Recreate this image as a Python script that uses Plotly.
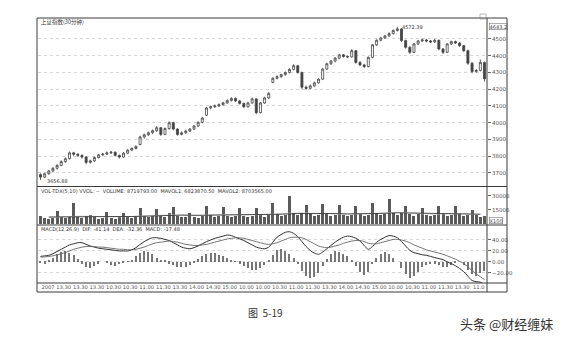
import plotly.graph_objects as go

# ---------------- data ----------------
opens = [3690,3675,3695,3712,3728,3745,3768,3785,3820,3812,3805,3795,3763,3772,3792,3808,3812,3820,3824,3805,
         3795,3818,3836,3846,3870,3915,3928,3940,3952,3970,3930,3965,4000,3962,3930,3940,3950,3962,3980,4002,
         4045,4088,4095,4100,4108,4118,4132,4145,4130,4115,4095,4118,4142,4060,4118,4148,4240,4265,4275,4287,
         4300,4318,4340,4300,4212,4205,4220,4238,4260,4320,4352,4368,4385,4405,4395,4393,4430,4360,4345,4335,
         4390,4465,4492,4506,4518,4532,4550,4560,4490,4450,4420,4470,4488,4494,4488,4482,4492,4440,4420,4470,
         4484,4476,4460,4430,4355,4305,4312,4360]
highs = [3698,3700,3718,3735,3752,3775,3792,3828,3826,3818,3810,3800,3780,3798,3815,3820,3828,3832,3828,3810,
         3825,3842,3852,3865,3922,3935,3948,3960,3980,3975,3972,4008,4005,3968,3948,3958,3968,3986,4008,4035,
         4095,4102,4108,4115,4125,4140,4152,4150,4136,4120,4125,4150,4146,4124,4155,4182,4272,4282,4292,4306,
         4325,4350,4345,4305,4222,4228,4245,4266,4326,4358,4375,4392,4412,4410,4402,4440,4435,4368,4352,4396,
         4470,4498,4512,4524,4540,4558,4572.39,4565,4496,4456,4476,4494,4502,4500,4494,4500,4496,4446,4476,4490,
         4490,4482,4465,4436,4362,4320,4378,4365]
lows = [3657,3668,3688,3705,3720,3740,3760,3780,3800,3796,3785,3752,3755,3766,3786,3800,3806,3812,3798,3786,
        3790,3812,3830,3840,3865,3906,3920,3932,3945,3920,3925,3958,3955,3922,3924,3934,3944,3956,3974,3996,
        4040,4080,4088,4094,4100,4112,4126,4124,4108,4088,4090,4112,4050,4055,4112,4140,4235,4258,4268,4280,
        4294,4312,4292,4200,4196,4200,4214,4232,4255,4314,4345,4360,4378,4388,4385,4388,4352,4338,4326,4330,
        4385,4458,4486,4500,4512,4526,4544,4482,4442,4410,4415,4464,4482,4480,4475,4476,4432,4410,4415,4464,
        4470,4452,4422,4345,4295,4298,4306,4245]
closes = [3675,3695,3712,3728,3745,3768,3785,3820,3812,3805,3795,3763,3772,3792,3808,3812,3820,3824,3805,3795,
          3818,3836,3846,3858,3915,3928,3940,3952,3970,3930,3965,4000,3962,3930,3940,3950,3962,3980,4002,4028,
          4088,4095,4100,4108,4118,4132,4145,4130,4115,4095,4118,4142,4060,4118,4148,4175,4265,4275,4287,4300,
          4318,4340,4300,4212,4205,4220,4238,4260,4320,4352,4368,4385,4405,4395,4393,4430,4360,4345,4335,4390,
          4465,4492,4506,4518,4532,4550,4560,4490,4450,4420,4470,4488,4494,4488,4482,4492,4440,4420,4470,4484,
          4476,4460,4430,4355,4305,4312,4360,4262]

volume = [9000,6000,5000,6500, 13800,7000,6000,7500, 22000,8000,6500,8500, 10000,7000,5500,6500,
          12700,6500,5000,7000, 11500,7500,6000,8000, 17300,9000,7000,8500, 16000,8500,7500,12000,
          18500,9000,7000,8000, 11500,7500,6500,8500, 19600,9500,8000,9000, 18500,9000,7500,8500,
          17300,8500,7000,9000, 17300,10000,8000,9500, 22000,11000,9000,10000, 30000,12000,9500,11500,
          20800,11000,9000,10000, 21500,10500,8500,10000, 20800,10000,8500,9500, 19600,10500,9000,10000,
          23000,11500,9500,11000, 26500,12000,10000,11500, 19600,11000,9000,10500, 17300,10000,8500,9500,
          19600,10500,9000,10000, 19600,10500,9000,10000, 15000,9500,8000,8700]
mavol1 = [7000,7500,8500,8000,7500,8000,9000,9500,9500,9000,10000,10000,9500,10000,11000,12000,11500,11000,
          10500,11000,12000,12500,11500,10500,11000,11000,10000]
mavol2 = [7500,7800,8200,8300,8000,8000,8500,9200,9500,9300,9500,9800,9800,9800,10500,11200,11500,11200,
          10800,10800,11300,12000,11800,11200,10800,10900,10500]

dif = [10,11,12,15,19,23,27,31,33,35,35,32,29,27,25,24,23,22,21,20,20,20,22,26,32,37,41,44,44,43,
       41,39,35,31,27,25,24,26,29,33,37,40,43,45,47,49,48,45,42,39,35,31,27,25,24,27,36,45,50,54,
       55,52,46,37,28,21,16,14,18,24,30,36,41,45,47,46,43,38,30,23,28,36,41,45,48,47,44,37,29,21,
       17,15,13,12,10,8,6,4,0,-3,-7,-12,-18,-26,-34,-36,-37,-41.14]
dea = [9,9,10,11,13,15,17,20,23,25,27,28,28,28,27,27,26,25,24,23,23,22,22,23,25,27,30,33,35,36,
       37,38,37,36,34,32,31,30,30,31,32,34,36,38,40,42,43,44,44,43,41,39,37,35,33,32,33,35,38,41,
       44,45,45,44,41,37,33,29,27,26,27,29,31,34,36,38,39,39,37,34,33,33,35,37,39,41,41,40,38,35,
       31,28,25,22,20,18,16,14,11,8,5,1,-3,-9,-16,-22,-27,-32.36]
macd = [-2,-3,2,8,14,18,19,17,12,5,-3,-9,-11,-8,-3,0,-2,-6,-8,-4,-1,1,4,10,16,19,18,14,8,4,
        2,-3,-6,-9,-10,-9,-6,-2,5,10,15,17,16,13,10,7,4,1,-3,-8,-12,-14,-15,-12,-6,2,12,21,23,20,
        15,8,-4,-16,-26,-29,-27,-20,-8,6,15,19,18,15,10,3,-8,-18,-24,-18,-4,8,15,18,15,8,0,-12,-22,-29,
        -26,-18,-10,-5,-4,-3,-6,-10,-9,-5,-2,0,-6,-14,-22,-25,-20,-17.48]

tick_labels = ["2007 13.30", "13.30", "13.30", "10.30", "10.30", "11.00", "11.30", "13.30", "14.00",
               "14.30", "15.00", "10.00", "10.00", "10.30", "11.00", "11.30", "13.30", "14.00", "14.30",
               "15.00", "10.00", "10.30", "11.00", "11.30", "13.30", "11.0"]
price_ticks = [3700, 3800, 3900, 4000, 4100, 4200, 4300, 4400, 4500]
vol_ticks = [15000, 30000]
vol_tick_text = ["15000", "30000"]
macd_ticks = [-20, 0, 20, 40]

title_price = "上证指数(30分钟)"
title_vol = "VOL-TDX(5,10) VVOL: --  VOLUME: 8719793.00  MAVOL1: 6823870.50  MAVOL2: 8703565.00"
title_macd = "MACD(12,26,9)  DIF: -41.14  DEA: -32.36  MACD: -17.48"

# ---------------- layout geometry ----------------
W, H = 566, 340
def px(x):
    return x / W
def py(y):
    return 1 - y / H

idx = list(range(len(closes)))
n = len(idx)
day_idx = [4 * k + 2 for k in range(len(mavol1))]
tick_pos = [3.8] + [4 * k + 1.6 for k in range(2, 2 + len(tick_labels) - 1)]

X0, X1 = 38, 487
dom_x = [px(X0), px(X1)]
dom_price = [py(186), py(18)]
dom_vol = [py(224), py(187)]
dom_macd = [py(283), py(226)]

ink = "#3a3a3a"
grid = "#d6d6d6"
FONT = "DejaVu Sans, Noto Sans CJK SC"

fig = go.Figure()

fig.add_trace(go.Candlestick(
    x=idx, open=opens, high=highs, low=lows, close=closes,
    increasing=dict(line=dict(color="#444", width=0.8), fillcolor="#ffffff"),
    decreasing=dict(line=dict(color="#444", width=0.8), fillcolor="#444"),
    whiskerwidth=0, xaxis="x", yaxis="y", showlegend=False, hoverinfo="skip"))

fig.add_trace(go.Bar(x=idx, y=volume, marker=dict(color="#5a5a5a", line=dict(width=0)),
                     width=0.72, xaxis="x2", yaxis="y2", showlegend=False))
fig.add_trace(go.Scatter(x=day_idx, y=mavol1, mode="lines", line=dict(color="#d0d0d0", width=0.9),
                         xaxis="x2", yaxis="y2", showlegend=False))
fig.add_trace(go.Scatter(x=day_idx, y=mavol2, mode="lines", line=dict(color="#222", width=0.8),
                         xaxis="x2", yaxis="y2", showlegend=False))

fig.add_trace(go.Bar(x=idx, y=macd, marker=dict(color="#777", line=dict(width=0)),
                     width=0.3, xaxis="x3", yaxis="y3", showlegend=False))
fig.add_trace(go.Scatter(x=idx, y=dif, mode="lines", line=dict(color="#333", width=1.0, shape="spline"),
                         xaxis="x3", yaxis="y3", showlegend=False))
fig.add_trace(go.Scatter(x=idx, y=dea, mode="lines", line=dict(color="#666", width=0.9, shape="spline"),
                         xaxis="x3", yaxis="y3", showlegend=False))

xr = [-0.6, n - 0.4]
common_x = dict(domain=dom_x, range=xr, showgrid=False, zeroline=False, showline=False, fixedrange=True)
tickfont = dict(size=5.5, color="#555", family=FONT)

fig.update_layout(
    width=W, height=H, margin=dict(l=0, r=0, t=0, b=0),
    paper_bgcolor="white", plot_bgcolor="white", bargap=0,
    font=dict(family=FONT, size=6, color="#444"),
    xaxis=dict(anchor="y", showticklabels=False, rangeslider=dict(visible=False), **common_x),
    xaxis2=dict(anchor="y2", showticklabels=False, matches="x", **common_x),
    xaxis3=dict(anchor="y3", matches="x", tickmode="array", tickvals=tick_pos, ticktext=tick_labels,
                ticks="", tickangle=0, tickfont=dict(size=5.2, color="#555", family=FONT), **common_x),
    yaxis=dict(domain=dom_price, range=[3622, 4625], side="right", tickvals=price_ticks,
               showgrid=True, gridcolor=grid, griddash="dot", gridwidth=0.8, zeroline=False,
               ticks="outside", ticklen=3, tickcolor="#666", tickfont=tickfont, fixedrange=True),
    yaxis2=dict(domain=dom_vol, range=[0, 39600], side="right", tickmode="array", tickvals=vol_ticks,
                ticktext=vol_tick_text, showgrid=False, zeroline=False, ticks="outside", ticklen=3,
                tickcolor="#666", tickfont=tickfont, fixedrange=True),
    yaxis3=dict(domain=dom_macd, range=[-38.5, 65.5], side="right", tickvals=macd_ticks, tickformat=".2f",
                showgrid=True, gridcolor=grid, griddash="dot", gridwidth=0.8, zeroline=False,
                ticks="outside", ticklen=3, tickcolor="#666", tickfont=tickfont, fixedrange=True),
)

# frame
shapes = [
    dict(type="rect", xref="paper", yref="paper", x0=px(37), x1=px(507), y0=py(292), y1=py(18),
         line=dict(color=ink, width=1)),
    dict(type="line", xref="paper", yref="paper", x0=px(37), x1=px(507), y0=py(186.5), y1=py(186.5),
         line=dict(color=ink, width=1)),
    dict(type="line", xref="paper", yref="paper", x0=px(37), x1=px(507), y0=py(225), y1=py(225),
         line=dict(color=ink, width=1)),
    dict(type="line", xref="paper", yref="paper", x0=px(37), x1=px(507), y0=py(283), y1=py(283),
         line=dict(color=ink, width=1)),
    dict(type="line", xref="paper", yref="paper", x0=px(487), x1=px(487), y0=py(292), y1=py(18),
         line=dict(color=ink, width=1)),
    dict(type="rect", xref="paper", yref="paper", x0=px(480), x1=px(486), y0=py(19), y1=py(14),
         line=dict(color="#888", width=0.6)),
]
fig.update_layout(shapes=shapes)

ann = [
    dict(text=title_price, x=px(39), y=py(21.5), xanchor="left", yanchor="middle",
         font=dict(size=5.5, color="#333", family="Noto Sans CJK SC")),
    dict(text=title_vol, x=px(39), y=py(190.5), xanchor="left", yanchor="middle",
         font=dict(size=5, color="#333", family=FONT)),
    dict(text=title_macd, x=px(39), y=py(228.5), xanchor="left", yanchor="middle",
         font=dict(size=5, color="#333", family=FONT)),
    dict(text="4643.2", x=px(489), y=py(27), xanchor="left", yanchor="middle",
         font=dict(size=5, color="#444", family=FONT), bordercolor="#777", borderwidth=0.6, borderpad=0),
    dict(text="X100", x=px(489), y=py(220.5), xanchor="left", yanchor="middle",
         font=dict(size=5, color="#444", family=FONT), bordercolor="#777", borderwidth=0.6, borderpad=0),
    dict(text="图  5-19", x=px(265), y=py(312), xanchor="center", yanchor="middle",
         font=dict(size=10, color="#333", family="Noto Sans CJK SC")),
    dict(text="头条 @财经缠妹", x=px(555), y=py(323), xanchor="right", yanchor="middle",
         font=dict(size=13, color="#333", family="Noto Sans CJK SC")),
]
for a in ann:
    a.update(xref="paper", yref="paper", showarrow=False)

# extreme value labels
ann.append(dict(text="4572.39", x=86, y=4572.39, xref="x", yref="y", xanchor="left", yanchor="middle",
                xshift=3, showarrow=False, font=dict(size=5, color="#333", family=FONT)))
ann.append(dict(text="3656.88", x=0, y=3657, xref="x", yref="y", xanchor="left", yanchor="middle",
                xshift=5, yshift=-1, showarrow=False, font=dict(size=5, color="#333", family=FONT)))
fig.update_layout(annotations=ann)

fig.write_html("out.html")
